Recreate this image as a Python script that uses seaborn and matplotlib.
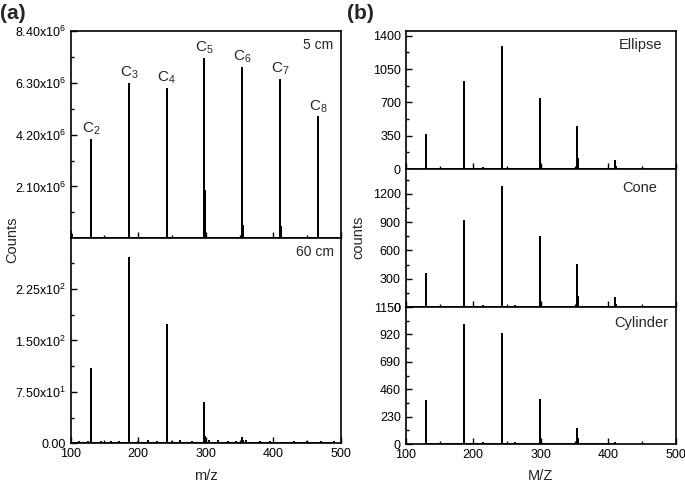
import matplotlib
matplotlib.use("Agg")
import matplotlib.pyplot as plt
from matplotlib.ticker import AutoMinorLocator
import seaborn as sns
import numpy as np

sns.set_style("ticks")
plt.rcParams["font.family"] = ["Liberation Sans", "DejaVu Sans"]
plt.rcParams["mathtext.default"] = "regular"

# peak positions (m/z) and cluster labels
peak_mz = [130, 186, 242, 298, 354, 410, 466]
peak_labels = ["C$_2$", "C$_3$", "C$_4$", "C$_5$", "C$_6$", "C$_7$", "C$_8$"]

# (a) 5 cm / 60 cm spectra
h_5cm   = [4.00e6, 6.26e6, 6.06e6, 7.28e6, 6.91e6, 6.42e6, 4.90e6]
iso_5cm = [0.30e6, 0.45e6, 0.50e6, 1.90e6, 0.50e6, 0.45e6, 0.40e6]
noise_5cm_mz = [101, 102]
noise_5cm_h  = [0.25e6, 0.15e6]

h_60cm   = [108, 271, 172, 58.5, 7, 0, 0]
iso_60cm = [10, 35, 25, 9, 3, 0, 0]
noise_60cm_mz = [101, 112, 125, 145, 160, 172, 200, 215, 228, 250, 262, 280,
                 305, 318, 333, 345, 360, 380, 395, 430, 450, 470, 490]
noise_60cm_h  = [4, 2, 2, 2, 2, 2, 2, 3, 2, 2, 4, 2,
                 3, 3, 2, 2, 3, 2, 2, 2, 2, 2, 2]

# (b) ellipse / cone / cylinder spectra
b_mz = [130, 186, 242, 298, 354, 410]
h_ellipse   = [357, 917, 1285, 735, 445, 88]
iso_ellipse = [40, 410, 200, 180, 110, 20]
h_cone      = [353, 918, 1275, 738, 441, 92]
iso_cone    = [40, 430, 219, 184, 110, 20]
h_cyl       = [363, 996, 921, 368, 126, 10]
iso_cyl     = [60, 100, 167, 126, 40, 0]
noise_b_mz  = [215, 262, 320]
noise_ell_h = [10, 5, 4]
noise_cone_h = [15, 6, 4]
noise_cyl_h = [8, 6, 4]

ISO_SHIFT = 0.5


def stick(ax, mz, h, iso, nmz=(), nh=()):
    mz_all = np.concatenate([mz, np.asarray(mz) + ISO_SHIFT, nmz]).astype(float)
    h_all = np.concatenate([h, iso, nh]).astype(float)
    order = np.argsort(mz_all, kind="stable")
    mz_all, h_all = mz_all[order], h_all[order]
    xs = np.repeat(mz_all, 3)
    ys = np.column_stack([np.zeros_like(h_all), h_all, np.zeros_like(h_all)]).ravel()
    sns.lineplot(x=xs, y=ys, sort=False, estimator=None, color="black",
                 linewidth=1.2, ax=ax)


def style(ax, show_x=False):
    for s in ax.spines.values():
        s.set_linewidth(1.2); s.set_color("black")
    ax.set_xlim(100, 500)
    ax.set_xticks([100, 200, 300, 400, 500])
    ax.xaxis.set_minor_locator(AutoMinorLocator(2))
    ax.yaxis.set_minor_locator(AutoMinorLocator(2))
    ax.tick_params(which="both", direction="in", width=1, labelsize=9, colors="black")
    ax.tick_params(which="major", length=4)
    ax.tick_params(which="minor", length=2)
    if not show_x:
        ax.tick_params(axis="x", labelbottom=False)
    ax.set_xlabel(""); ax.set_ylabel("")


fig = plt.figure(figsize=(6.85, 4.84), dpi=100)

# ---- panel (a)
ax1 = fig.add_axes([0.1032, 0.5076, 0.3946, 0.4284])
stick(ax1, peak_mz, h_5cm, iso_5cm, noise_5cm_mz, noise_5cm_h)
style(ax1)
ax1.set_ylim(0, 8.4e6)
ax1.set_yticks([2.1e6, 4.2e6, 6.3e6, 8.4e6])
ax1.set_yticklabels(["2.10x10$^6$", "4.20x10$^6$", "6.30x10$^6$", "8.40x10$^6$"])
for m, hh, lab in zip(peak_mz, h_5cm, peak_labels):
    ax1.annotate(lab, (m, hh), xytext=(0, 2), textcoords="offset points",
                 ha="center", va="bottom", fontsize=11)
ax1.text(0.97, 0.93, "5 cm", transform=ax1.transAxes, ha="right", va="center", fontsize=10)

ax2 = fig.add_axes([0.1032, 0.0841, 0.3946, 0.4235])
stick(ax2, peak_mz, h_60cm, iso_60cm, noise_60cm_mz, noise_60cm_h)
style(ax2, show_x=True)
ax2.set_ylim(0, 299)
ax2.set_yticks([0, 75, 150, 225])
ax2.set_yticklabels(["0.00", "7.50x10$^1$", "1.50x10$^2$", "2.25x10$^2$"])
ax2.text(0.975, 0.935, "60 cm", transform=ax2.transAxes, ha="right", va="center", fontsize=10)

# ---- panel (b)
ax3 = fig.add_axes([0.5923, 0.6508, 0.3946, 0.2852])
stick(ax3, b_mz, h_ellipse, iso_ellipse, noise_b_mz, noise_ell_h)
style(ax3)
ax3.set_ylim(0, 1450)
ax3.set_yticks([0, 350, 700, 1050, 1400])
ax3.text(0.95, 0.90, "Ellipse", transform=ax3.transAxes, ha="right", va="center", fontsize=10.5)

ax4 = fig.add_axes([0.5923, 0.3657, 0.3946, 0.2851])
stick(ax4, b_mz, h_cone, iso_cone, noise_b_mz, noise_cone_h)
style(ax4)
ax4.set_ylim(0, 1465)
ax4.set_yticks([0, 300, 600, 900, 1200])
ax4.text(0.93, 0.86, "Cone", transform=ax4.transAxes, ha="right", va="center", fontsize=10.5)

ax5 = fig.add_axes([0.5923, 0.0826, 0.3946, 0.2831])
stick(ax5, b_mz, h_cyl, iso_cyl, noise_b_mz, noise_cyl_h)
style(ax5, show_x=True)
ax5.set_ylim(0, 1150)
ax5.set_yticks([0, 230, 460, 690, 920, 1150])
ax5.text(0.97, 0.88, "Cylinder", transform=ax5.transAxes, ha="right", va="center", fontsize=10.5)

# ---- labels
fig.text(0.018, 0.504, "Counts", rotation=90, ha="center", va="center", fontsize=10.5)
fig.text(0.523, 0.51, "counts", rotation=90, ha="center", va="center", fontsize=10.5)
fig.text(0.3006, 0.017, "m/z", ha="center", va="center", fontsize=10.5)
fig.text(0.7896, 0.017, "M/Z", ha="center", va="center", fontsize=10.5)
fig.text(0.0, 0.973, "(a)", ha="left", va="center", fontsize=15, fontweight="bold")
fig.text(0.506, 0.973, "(b)", ha="left", va="center", fontsize=15, fontweight="bold")

fig.savefig("out.png", dpi=100)
plt.close(fig)
